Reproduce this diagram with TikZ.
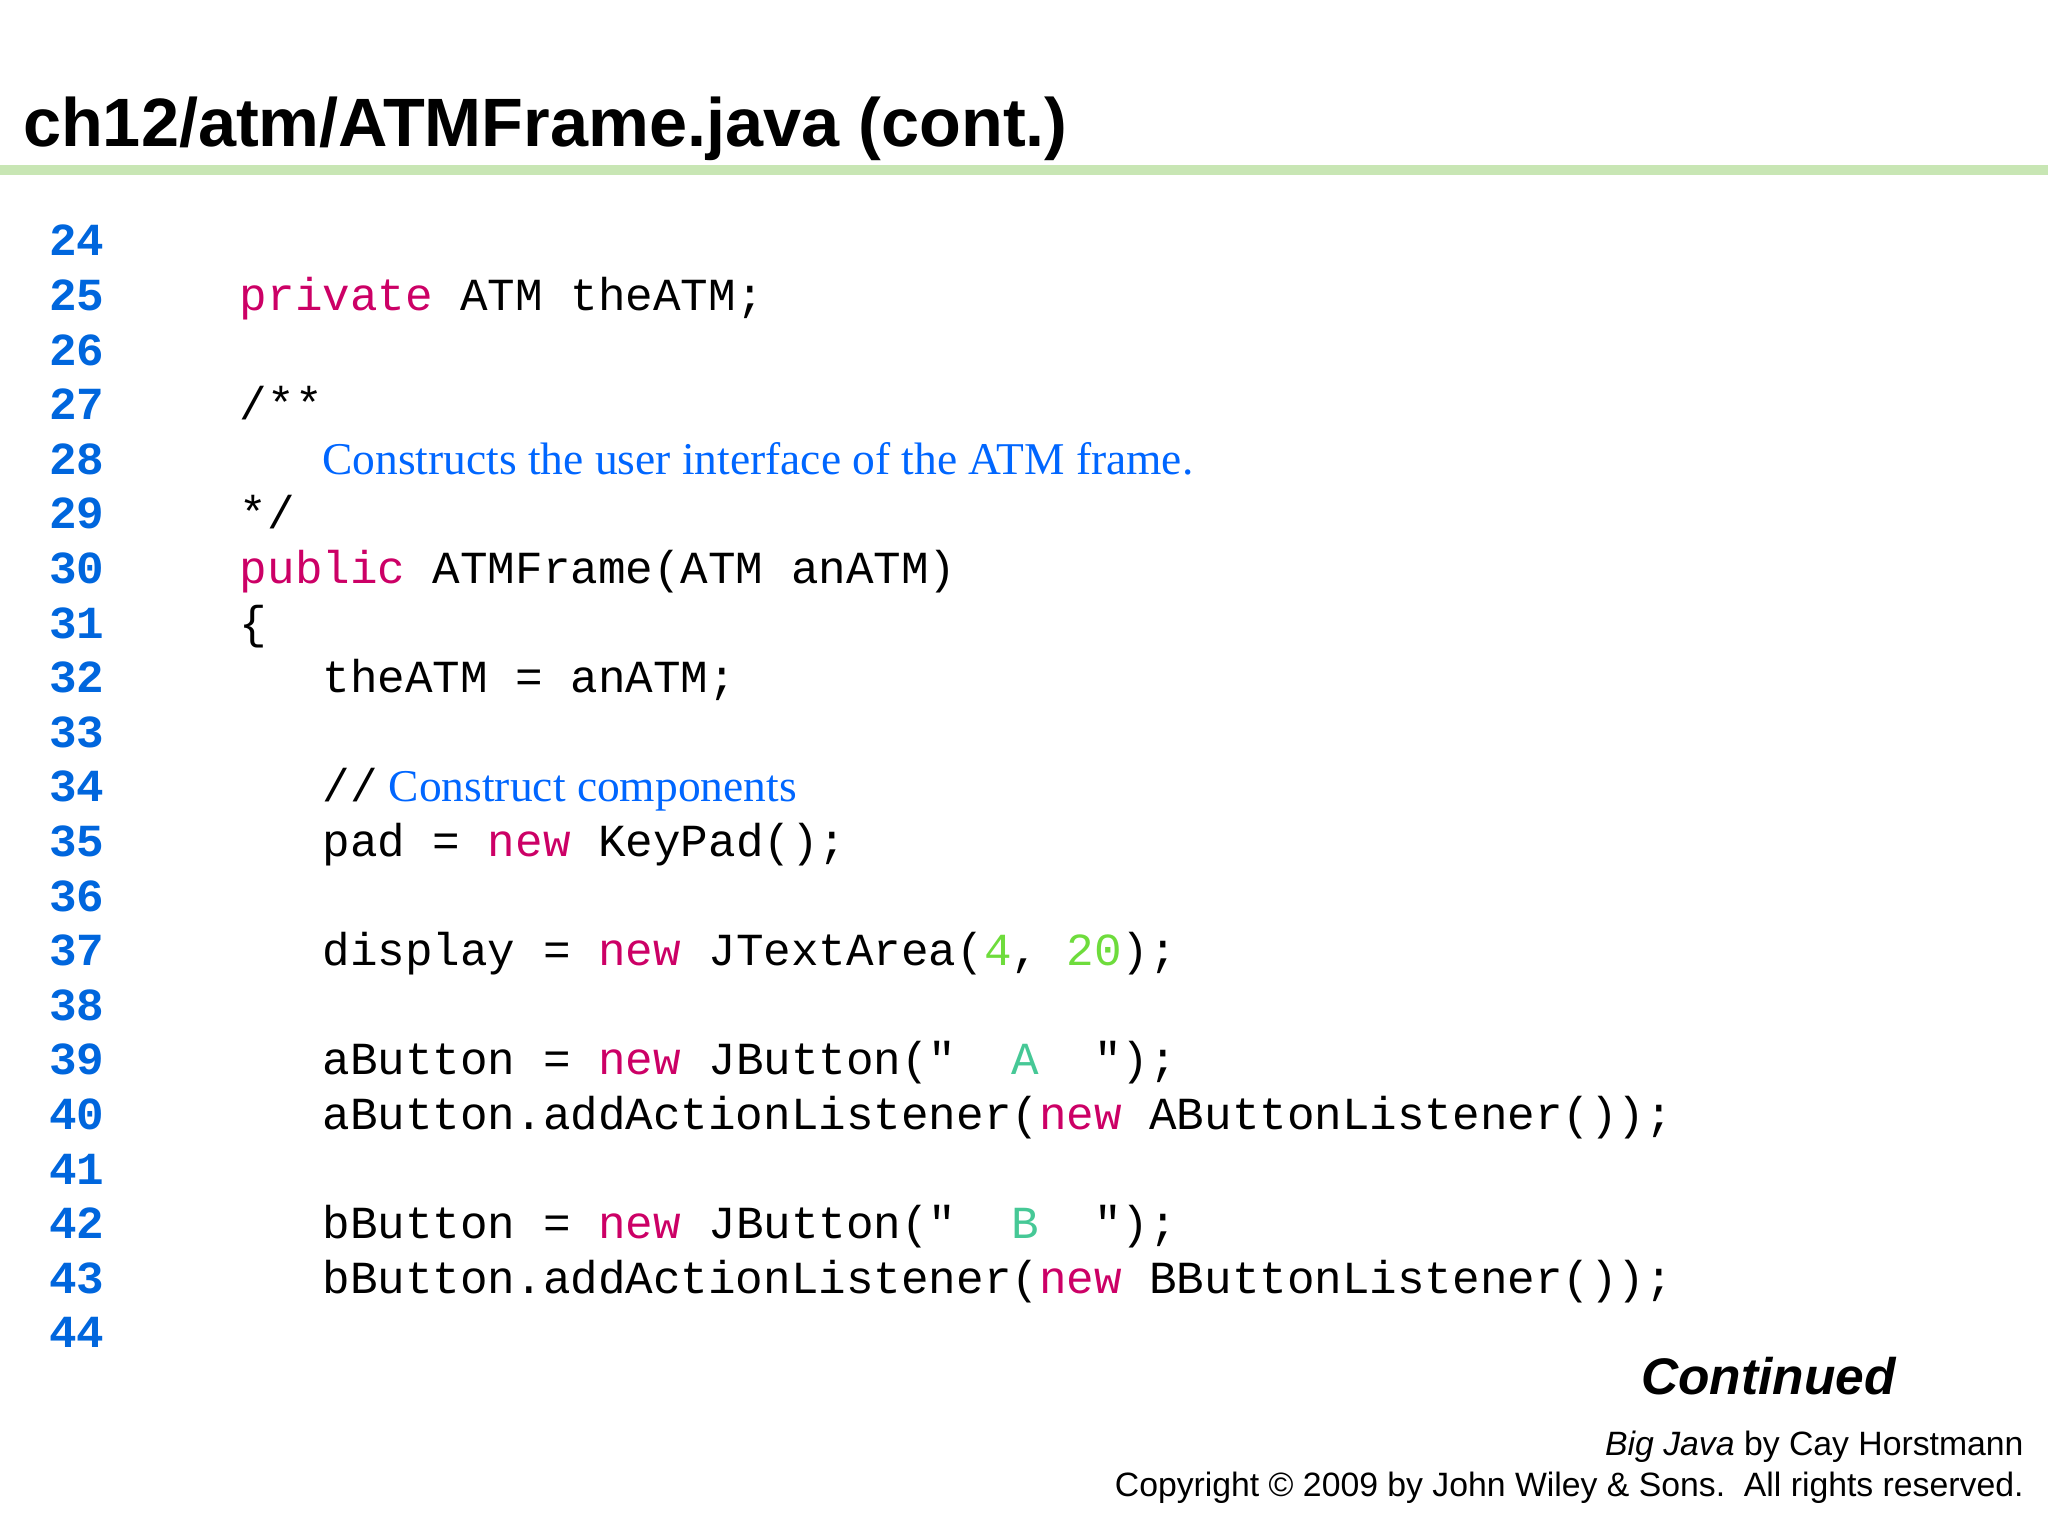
\documentclass[tikz,border=0pt]{standalone}
\usepackage{fontspec}
\setmainfont{Liberation Serif}
\setsansfont{Liberation Sans}
\setmonofont{Liberation Mono}
\definecolor{kw}{RGB}{204,0,102}
\definecolor{num}{RGB}{0,102,221}
\definecolor{cm}{RGB}{0,102,255}
\definecolor{gn}{RGB}{110,220,60}
\definecolor{st}{RGB}{70,200,150}
\definecolor{rule}{RGB}{200,230,180}
\newcommand{\cl}[4][black]{\node[code,text=#1] at ({183+#3*21.1},{196+(#2-24)*41.8}) {#4};}
\tikzset{code/.style={anchor=base west,inner sep=0pt,font=\ttfamily\fontsize{10}{12}\selectfont},
lnum/.style={anchor=base west,inner sep=0pt,text=num,font=\ttfamily\bfseries\fontsize{10}{12}\selectfont},
cmt/.style={anchor=base west,inner sep=0pt,text=cm,font=\rmfamily\fontsize{9.9}{12}\selectfont}}
\begin{document}
\begin{tikzpicture}[x=0.01cm,y=-0.01cm]
\useasboundingbox (0,0) rectangle (1568,1176);
\node[anchor=base west,inner sep=0pt,font=\sffamily\bfseries\fontsize{14.9}{18}\selectfont] (title) at (17,112) {ch12/atm/ATMFrame.java (cont.)};
\fill[rule] (0,126) rectangle (1568,134);
\foreach \i in {24,...,44}{\node[lnum] (n\i) at (37,{196+(\i-24)*41.8}) {\i};}
\cl[kw]{25}{0}{private}\cl{25}{8}{ATM theATM;}
\cl{27}{0}{/**}
\node[cmt] (c28) at (246,{196+4*41.8}) {Constructs the user interface of the ATM frame.};
\cl{29}{0}{*/}
\cl[kw]{30}{0}{public}\cl{30}{7}{ATMFrame(ATM anATM)}
\cl{31}{0}{\{}
\cl{32}{3}{theATM = anATM;}
\cl{34}{3}{//}
\node[cmt] (c34) at (297,{196+10*41.8}) {Construct components};
\cl{35}{3}{pad = }\cl[kw]{35}{9}{new}\cl{35}{13}{KeyPad();}
\cl{37}{3}{display = }\cl[kw]{37}{13}{new}\cl{37}{17}{JTextArea(}\cl[gn]{37}{27}{4}\cl{37}{28}{,}\cl[gn]{37}{30}{20}\cl{37}{32}{);}
\cl{39}{3}{aButton = }\cl[kw]{39}{13}{new}\cl{39}{17}{JButton("}\cl[st]{39}{28}{A}\cl{39}{31}{");}
\cl{40}{3}{aButton.addActionListener(}\cl[kw]{40}{29}{new}\cl{40}{33}{AButtonListener());}
\cl{42}{3}{bButton = }\cl[kw]{42}{13}{new}\cl{42}{17}{JButton("}\cl[st]{42}{28}{B}\cl{42}{31}{");}
\cl{43}{3}{bButton.addActionListener(}\cl[kw]{43}{29}{new}\cl{43}{33}{BButtonListener());}
\node[anchor=base east,inner sep=0pt,font=\sffamily\bfseries\itshape\fontsize{11.2}{14}\selectfont] (cont) at (1452,1068) {Continued};
\node[anchor=base east,inner sep=0pt,font=\sffamily\fontsize{7.35}{9}\selectfont] (bj) at (1550,1114) {\textit{Big Java} by Cay Horstmann};
\node[anchor=base east,inner sep=0pt,font=\sffamily\fontsize{7.35}{9}\selectfont] (copy) at (1550,1146) {Copyright © 2009 by John Wiley \& Sons.\ \ All rights reserved.};
\end{tikzpicture}
\end{document}
